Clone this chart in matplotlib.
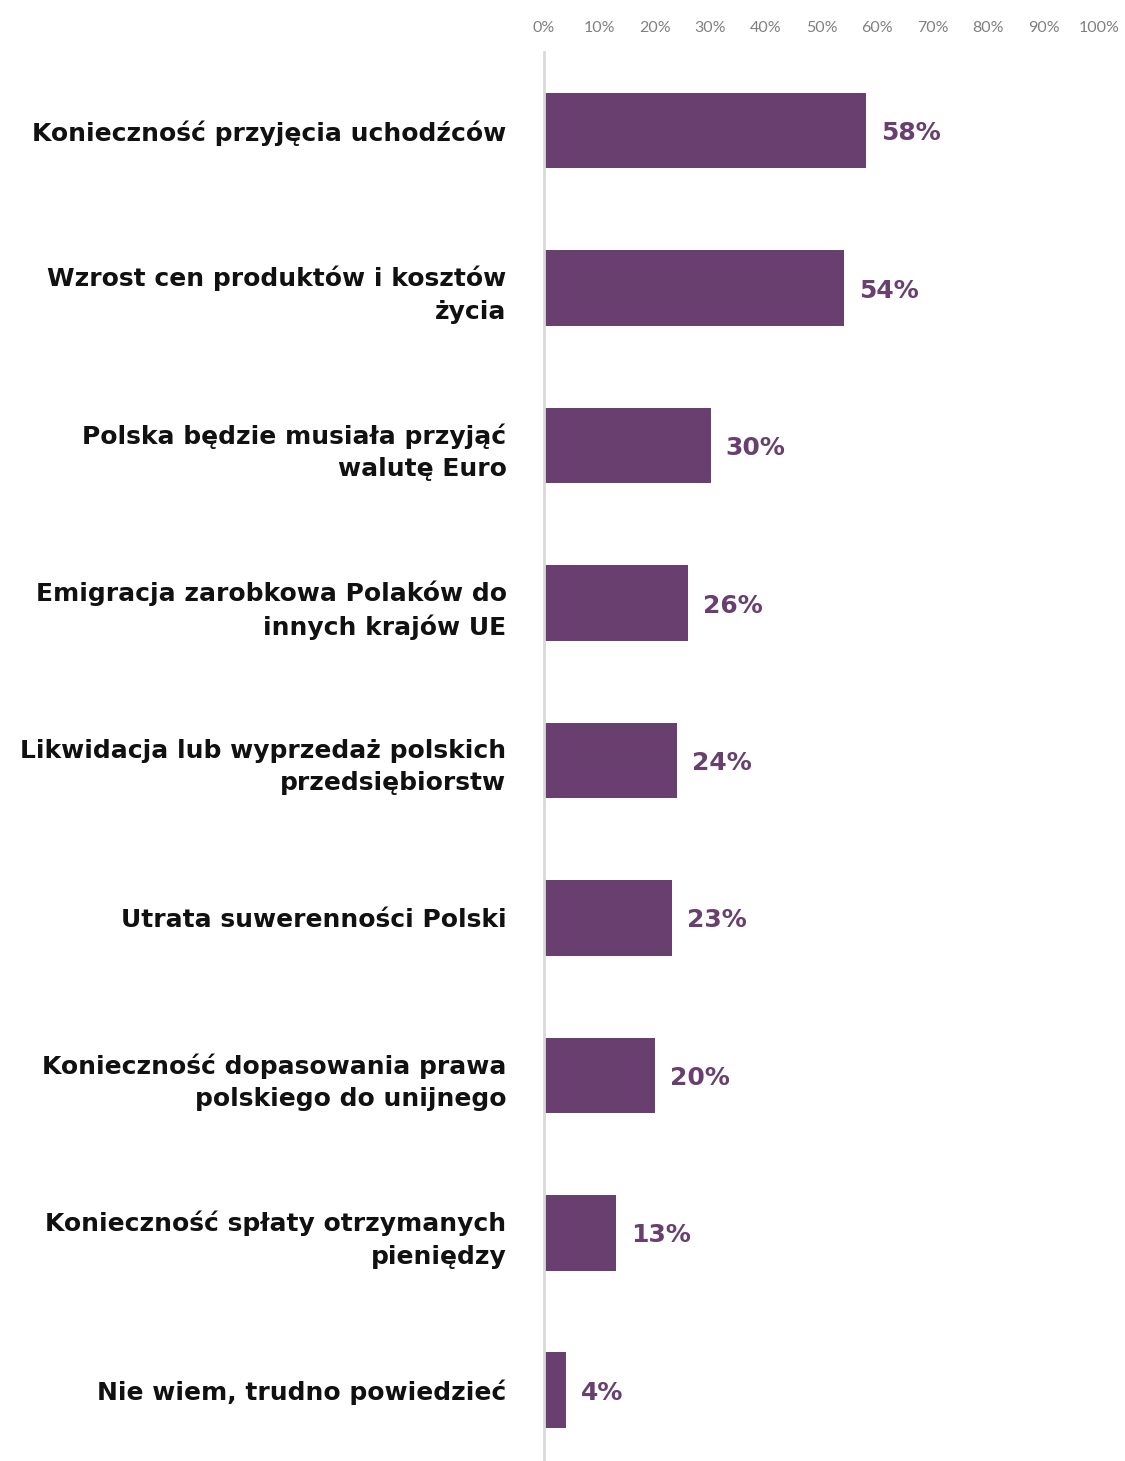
import matplotlib as mpl
import matplotlib.pyplot as plt
import numpy as np

categories = [
    "Konieczność przyjęcia uchodźców",
    "Wzrost cen produktów i kosztów\nżycia",
    "Polska będzie musiała przyjąć\nwalutę Euro",
    "Emigracja zarobkowa Polaków do\ninnych krajów UE",
    "Likwidacja lub wyprzedaż polskich\nprzedsiębiorstw",
    "Utrata suwerenności Polski",
    "Konieczność dopasowania prawa\npolskiego do unijnego",
    "Konieczność spłaty otrzymanych\npieniędzy",
    "Nie wiem, trudno powiedzieć",
]
values = [58, 54, 30, 26, 24, 23, 20, 13, 4]
ticks = list(range(0, 101, 10))

purple = "#683f6f"

mpl.rcParams["font.family"] = ["DejaVu Sans"]

fig = plt.figure(figsize=(11.25, 14.61), dpi=100)
ax = fig.add_axes([544 / 1125, 0.0, 555 / 1125, 1 - 52 / 1461])

y = np.arange(len(categories))
ax.barh(y, values, height=0.48, color=purple)

for yi, v in zip(y, values):
    ax.text(v + 2.7, yi, f"{v}%", va="center_baseline", ha="left",
            fontsize=18, fontweight="bold", color=purple)

ax.set_xlim(0, 100)
ax.set_ylim(len(categories) - 0.55, -0.5)

ax.xaxis.tick_top()
ax.set_xticks(ticks)
ax.set_xticklabels([f"{t}%" for t in ticks], color="#808080", fontsize=11.5,
                   family="Lato")
ax.tick_params(axis="x", length=0, pad=12)

ax.set_yticks(y)
ax.set_yticklabels(categories, fontsize=18, fontweight="bold", color="#111111",
                   linespacing=1.45)
ax.tick_params(axis="y", length=0, pad=27)

for side in ("top", "right", "bottom"):
    ax.spines[side].set_visible(False)
ax.spines["left"].set_color("#d9d9d9")
ax.spines["left"].set_linewidth(2)

fig.savefig("out.png", dpi=100)
